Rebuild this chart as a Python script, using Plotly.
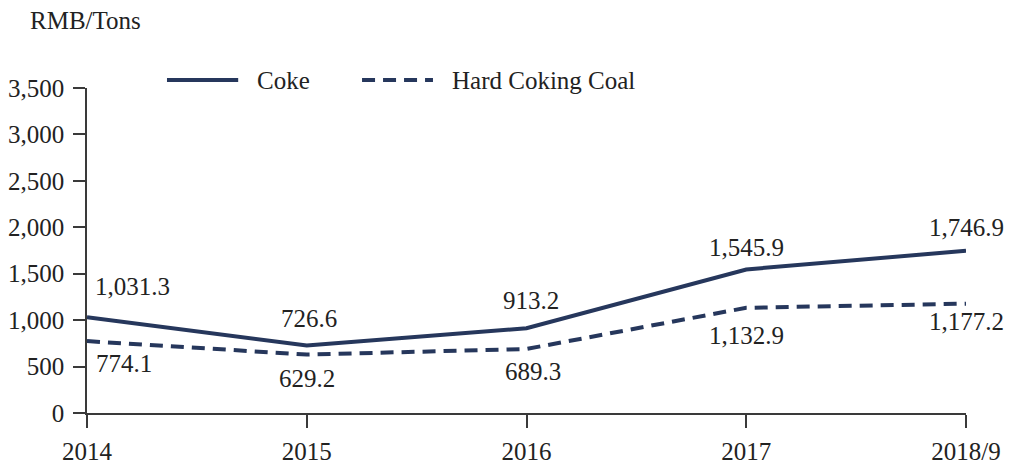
import plotly.graph_objects as go

# Annual average prices, RMB per ton
periods = ["2014", "2015", "2016", "2017", "2018/9"]
coke = [1031.3, 726.6, 913.2, 1545.9, 1746.9]
coal = [774.1, 629.2, 689.3, 1132.9, 1177.2]
y_ticks = [0, 500, 1000, 1500, 2000, 2500, 3000, 3500]

NAVY = "#26375c"
AXIS = "#3a3a3a"
TEXT = "#222222"
FONT = "Liberation Serif"
FS = 25

xs = list(range(len(periods)))

fig = go.Figure()
fig.add_trace(go.Scatter(x=xs, y=coke, mode="lines", name="Coke",
                         line=dict(color=NAVY, width=4), showlegend=False))
fig.add_trace(go.Scatter(x=xs, y=coal, mode="lines", name="Hard Coking Coal",
                         line=dict(color=NAVY, width=4, dash="13px,8px"),
                         showlegend=False))

def fmt(v):
    return f"{v:,.1f}"

# value labels: coke above its line, coal below
coke_dx = [45, 2, 4, 0, 0]
coke_dy = [31, 27, 28, 22, 23]
coal_dx = [37, 0, 6, 0, 0]
coal_dy = [-22, -24, -23, -28, -18]
for i, v in enumerate(coke):
    fig.add_annotation(x=xs[i], y=v, text=fmt(v), showarrow=False,
                       xshift=coke_dx[i], yshift=coke_dy[i],
                       font=dict(family=FONT, size=FS, color=TEXT))
for i, v in enumerate(coal):
    fig.add_annotation(x=xs[i], y=v, text=fmt(v), showarrow=False,
                       xshift=coal_dx[i], yshift=coal_dy[i],
                       font=dict(family=FONT, size=FS, color=TEXT))

# legend drawn in paper space
fig.add_shape(type="line", xref="paper", yref="paper", x0=0.091, x1=0.172,
              y0=1.0246, y1=1.0246, line=dict(color=NAVY, width=4))
fig.add_shape(type="line", xref="paper", yref="paper", x0=0.3129, x1=0.3936,
              y0=1.0246, y1=1.0246, line=dict(color=NAVY, width=4, dash="13px,8px"))
fig.add_annotation(xref="paper", yref="paper", x=0.191, y=1.0246, text="Coke",
                   showarrow=False, xanchor="left", yanchor="middle",
                   font=dict(family=FONT, size=FS, color=TEXT))
fig.add_annotation(xref="paper", yref="paper", x=0.413, y=1.0246,
                   text="Hard Coking Coal", showarrow=False, xanchor="left",
                   yanchor="middle", font=dict(family=FONT, size=FS, color=TEXT))

# unit label
fig.add_annotation(xref="paper", yref="paper", x=-0.067, y=1.209, text="RMB/Tons",
                   showarrow=False, xanchor="left", yanchor="middle",
                   font=dict(family=FONT, size=FS, color=TEXT))

fig.update_layout(
    width=1017, height=464,
    margin=dict(l=87, r=51, t=88, b=51),
    paper_bgcolor="white", plot_bgcolor="white",
    font=dict(family=FONT, size=FS, color=TEXT),
    xaxis=dict(range=[0, len(periods) - 1], tickmode="array", tickvals=xs,
               ticktext=periods, showgrid=False, zeroline=False,
               showline=True, linecolor=AXIS, linewidth=1.5, automargin=False,
               ticks="outside", ticklen=13, tickwidth=1.5, tickcolor=AXIS,
               ticklabelstandoff=2),
    yaxis=dict(range=[0, 3500], tickmode="array", tickvals=y_ticks,
               ticktext=[f"{t:,}" for t in y_ticks], showgrid=False,
               zeroline=False, showline=True, linecolor=AXIS, linewidth=1.5,
               automargin=False, ticks="outside", ticklen=12, tickwidth=1.5,
               tickcolor=AXIS, ticklabelstandoff=4),
)

fig.write_html("out.html")
